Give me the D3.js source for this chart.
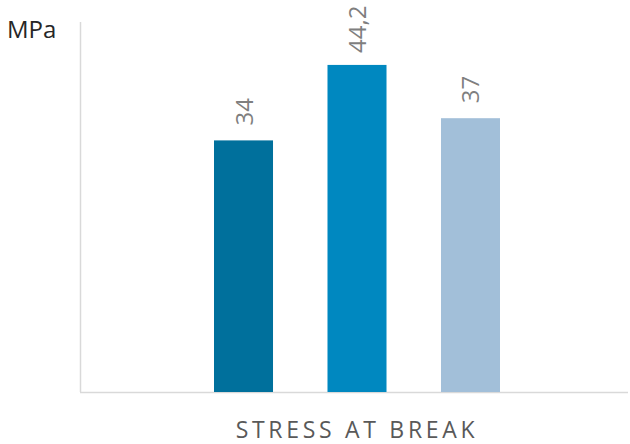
<!DOCTYPE html>
<html><head><meta charset="utf-8">
<script src="https://cdn.jsdelivr.net/npm/d3@7"></script>
<style>body{margin:0;background:#fff}svg{display:block}</style>
</head><body>
<svg id="c" width="630" height="444"></svg>
<script>
const categories = ["STRESS AT BREAK"];
const seriesNames = ["A", "B", "C"];
const values = [34, 44.2, 37];
const labels = ["34", "44,2", "37"];
const colors = ["#00709c", "#0088c0", "#a2bfd9"];
const yMax = 50;

(function () {
const svg = d3.select("#c");
const pLeft = 80, pRight = 628, pTop = 22, pBottom = 392;

const y = d3.scaleLinear().domain([0, yMax]).range([pBottom, pTop]);
const x0 = d3.scaleBand().domain(categories).range([pLeft, pRight]).padding(0);
const gx = x0(categories[0]) + 134;
const x1 = d3.scaleBand().domain(seriesNames).range([gx, gx + 286]).paddingInner(0.48).paddingOuter(0);

svg.append("line").attr("x1", pLeft + 0.5).attr("x2", pLeft + 0.5).attr("y1", pTop).attr("y2", pBottom)
  .attr("stroke", "#d9d9d9").attr("stroke-width", 1.5);
svg.append("line").attr("x1", pLeft).attr("x2", pRight).attr("y1", pBottom + 0.5).attr("y2", pBottom + 0.5)
  .attr("stroke", "#d9d9d9").attr("stroke-width", 1.5);

svg.selectAll("rect.bar").data(values).enter().append("rect")
  .attr("class", "bar")
  .attr("x", (d, i) => x1(seriesNames[i]))
  .attr("width", x1.bandwidth())
  .attr("y", d => y(d))
  .attr("height", d => pBottom - y(d))
  .attr("fill", (d, i) => colors[i]);

svg.selectAll("text.lbl").data(values).enter().append("text")
  .attr("class", "lbl")
  .attr("transform", (d, i) => `translate(${x1(seriesNames[i]) + x1.bandwidth() / 2 + 9},${y(d) - (i === 1 ? 12 : 15)}) rotate(-90)`)
  .attr("font-family", "'Open Sans', sans-serif")
  .attr("font-size", 24)
  .attr("fill", "#7f7f7f")
  .text((d, i) => labels[i]);

svg.append("text").attr("x", 7).attr("y", 38)
  .attr("font-family", "'Open Sans', sans-serif").attr("font-size", 24).attr("fill", "#262626")
  .text("MPa");

svg.append("text").attr("x", 357).attr("y", 437.5)
  .attr("text-anchor", "middle")
  .attr("font-family", "'Open Sans', sans-serif").attr("font-size", 23).attr("fill", "#595959")
  .attr("letter-spacing", 3.7)
  .text(categories[0]);
})();
</script>
</body></html>
